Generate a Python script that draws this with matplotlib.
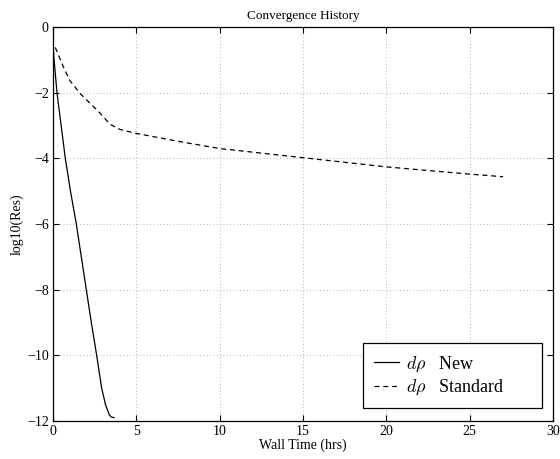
import matplotlib
matplotlib.use("Agg")
import matplotlib.pyplot as plt

# ---- data ----
new_t = [0.0, 0.05, 0.24, 0.54, 0.74, 1.05, 1.40, 1.70, 2.00, 2.30, 2.62, 2.92, 3.15, 3.38, 3.50, 3.66]
new_res = [-0.3, -0.9, -2.0, -3.2, -4.0, -5.0, -6.0, -7.0, -8.0, -9.0, -10.0, -11.0, -11.5, -11.82, -11.88, -11.9]

std_t = [0.14, 0.62, 1.0, 1.62, 2.82, 3.42, 4.02, 5.0, 7.5, 10.0, 15.0, 20.0, 25.0, 27.0]
std_res = [-0.62, -1.21, -1.62, -2.02, -2.62, -2.96, -3.12, -3.24, -3.48, -3.70, -3.98, -4.26, -4.48, -4.56]

labels = [r"$d\rho$   New", r"$d\rho$   Standard"]

plt.rcParams["font.family"] = ["Liberation Serif", "DejaVu Serif"]
plt.rcParams["mathtext.fontset"] = "cm"

fig = plt.figure(figsize=(5.6, 4.59), dpi=100)
ax = fig.add_axes([0.0946, 0.083, 0.893, 0.858])

ax.plot(new_t, new_res, "-", color="black", linewidth=0.9, label=labels[0])
ax.plot(std_t, std_res, "--", color="black", linewidth=0.9, dashes=(4, 3), label=labels[1])

ax.set_xlim(0, 30)
ax.set_ylim(-12, 0)
ax.set_xticks(range(0, 31, 5))
ax.set_yticks(range(-12, 1, 2))
ax.grid(True, linestyle=(0, (1, 3)), color="#999999", linewidth=0.6)
ax.tick_params(direction="in", top=True, right=True, labelsize=10, length=4, pad=3)
for s in ax.spines.values():
    s.set_linewidth(0.9)

ax.set_title("Convergence History", fontsize=9.5, pad=6)
ax.set_xlabel("Wall Time (hrs)", fontsize=10, labelpad=0)
ax.set_ylabel("log10(Res)", fontsize=10, labelpad=2)

# legend box spans roughly x 363-542 px, bottom at 408 px
leg = ax.legend(loc="lower left", bbox_to_anchor=(0.62, 0.033, 0.358, 0.16), mode="expand",
                fontsize=13, fancybox=False, framealpha=1, edgecolor="black",
                borderpad=0.6, handlelength=1.4, handletextpad=0.4,
                labelspacing=0.22, borderaxespad=0)
leg.get_frame().set_linewidth(0.9)

fig.savefig("out.png", dpi=100)
